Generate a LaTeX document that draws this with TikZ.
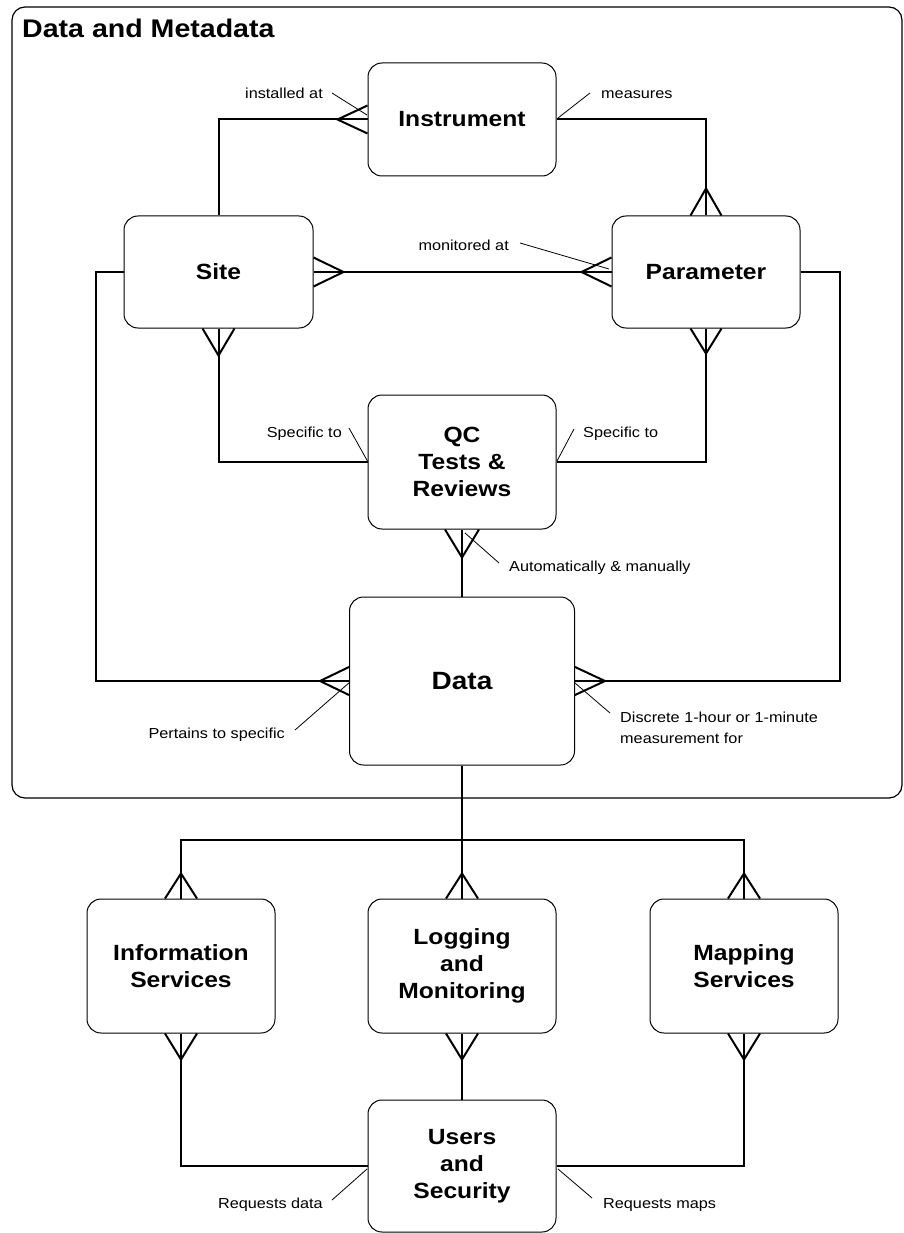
\documentclass[tikz,border=0pt]{standalone}
\usepackage{fontspec}
\setmainfont[FakeStretch=1.12]{Liberation Sans}
\usetikzlibrary{calc}
\newcommand\myboxfont{\fontsize{22}{27.3}\selectfont\bfseries}
\newcommand\mydatafont{\fontsize{25}{30}\selectfont\bfseries}
\newcommand\mytitlefont{\fontsize{25.5}{30}\selectfont\bfseries}
\newcommand\mylblfont{\fontsize{14.5}{21}\selectfont}
\newcommand\cfh[3]{\draw[foot] ($(#1)+(0,#3)$) -- ($(#1)+(#2,0)$) -- ($(#1)+(0,-#3)$);}
\newcommand\cfv[3]{\draw[foot] ($(#1)+(#3,0)$) -- ($(#1)+(0,#2)$) -- ($(#1)+(-#3,0)$);}
\begin{document}
\begin{tikzpicture}[x=1pt,y=-1pt,
  box/.style={draw, line width=1pt, rounded corners=14pt, minimum width=188pt,
    minimum height=134pt, inner sep=0pt, align=center, font=\myboxfont},
  conn/.style={line width=2pt},
  foot/.style={line width=2pt, line join=miter},
  leader/.style={line width=0.8pt},
  lbl/.style={inner sep=0pt, font=\mylblfont},
  frame/.style={draw, line width=1.2pt, rounded corners=13pt}]
\useasboundingbox (0,0) rectangle (904,1233);
\draw[frame] (12,7) rectangle (902,798);
\node[anchor=base west, inner sep=0pt, font=\mytitlefont] (title) at (22,38) {Data and Metadata};

% entities
\node[box, minimum height=113pt] (inst) at (462,119.5) {Instrument};
\node[box, minimum width=189pt, minimum height=112pt] (site) at (218.5,272) {Site};
\node[box, minimum height=112pt] (param) at (706,272) {Parameter};
\node[box] (qc) at (462,462) {QC\\Tests \&\\Reviews};
\node[box, minimum width=225pt, minimum height=168pt, font=\mydatafont] (data) at (462,681) {Data};
\node[box] (info) at (181,966) {Information\\Services};
\node[box] (logg) at (462,966) {Logging\\and\\Monitoring};
\node[box] (mapp) at (744,966) {Mapping\\Services};
\node[box, minimum height=132pt] (users) at (462,1166) {Users\\and\\Security};

% connectors
\draw[conn] (inst.west) -| (site.north);
\draw[conn] (inst.east) -| (param.north);
\draw[conn] (site.east) -- (param.west);
\draw[conn] (site.south) |- (qc.west);
\draw[conn] (param.south) |- (qc.east);
\draw[conn] (qc.south) -- (data.north);
\draw[conn] (site.west) -- ++(-28,0) |- (data.west);
\draw[conn] (param.east) -- ++(39,0) |- (data.east);
\coordinate (bus) at (462,840);
\draw[conn] (data.south) -- (logg.north);
\draw[conn] (info.north) -- (info.north |- bus) -- (mapp.north |- bus) -- (mapp.north);
\draw[conn] (logg.south) -- (users.north);
\draw[conn] (info.south) |- (users.west);
\draw[conn] (mapp.south) |- (users.east);

% crow's feet
\cfh{inst.west}{-30}{14}
\cfv{param.north}{-27}{15.5}
\cfh{site.east}{30}{14.5}
\cfh{param.west}{-30}{14.5}
\cfv{site.south}{27}{16}
\cfv{param.south}{25}{15.5}
\cfv{qc.south}{28}{17}
\cfh{data.west}{-29}{14}
\cfh{data.east}{30}{14}
\cfv{info.north}{-25}{16}
\cfv{logg.north}{-25}{16}
\cfv{mapp.north}{-25}{16}
\cfv{info.south}{26}{16}
\cfv{logg.south}{26}{16}
\cfv{mapp.south}{26}{16}

% labels and leaders
\node[lbl, anchor=base east] (l1) at (323,99) {installed at};
\coordinate (l1a) at (332,93); \coordinate (l1b) at (367,115);
\draw[leader] (l1a) -- (l1b);
\node[lbl, anchor=base west] (l2) at (601,99) {measures};
\coordinate (l2a) at (590,93); \coordinate (l2b) at (558,118);
\draw[leader] (l2a) -- (l2b);
\node[lbl, anchor=base east] (l3) at (509,251) {monitored at};
\coordinate (l3a) at (520,243); \coordinate (l3b) at (609,269);
\draw[leader] (l3a) -- (l3b);
\node[lbl, anchor=base east] (l4) at (342,437) {Specific to};
\coordinate (l4a) at (349,428); \coordinate (l4b) at (368,462);
\draw[leader] (l4a) -- (l4b);
\node[lbl, anchor=base west] (l5) at (583,437) {Specific to};
\coordinate (l5a) at (574,429); \coordinate (l5b) at (557,461);
\draw[leader] (l5a) -- (l5b);
\node[lbl, anchor=base west] (l6) at (509,571) {Automatically \& manually};
\coordinate (l6a) at (499,563); \coordinate (l6b) at (465,533);
\draw[leader] (l6a) -- (l6b);
\node[lbl, anchor=base east] (l7) at (285,738) {Pertains to specific};
\coordinate (l7a) at (295,730); \coordinate (l7b) at (350,682);
\draw[leader] (l7a) -- (l7b);
\node[lbl, anchor=north west, align=left] (l8) at (620,711.5) {Discrete 1-hour or 1-minute\\measurement for};
\coordinate (l8a) at (610,713); \coordinate (l8b) at (575,683);
\draw[leader] (l8a) -- (l8b);
\node[lbl, anchor=base east] (l9) at (323,1208) {Requests data};
\coordinate (l9a) at (332,1200); \coordinate (l9b) at (367,1169);
\draw[leader] (l9a) -- (l9b);
\node[lbl, anchor=base west] (l10) at (603,1208) {Requests maps};
\coordinate (l10a) at (592,1198); \coordinate (l10b) at (558,1169);
\draw[leader] (l10a) -- (l10b);
\end{tikzpicture}
\end{document}
